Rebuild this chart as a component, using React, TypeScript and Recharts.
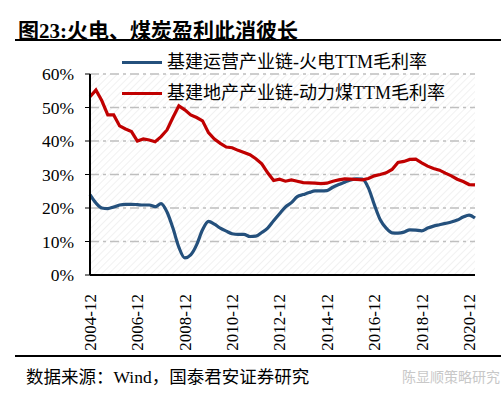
import React from 'react';
import { LineChart, Line, XAxis, YAxis, CartesianGrid } from 'recharts';

const quarters = [
  '2004-12', '2005-03', '2005-06', '2005-09', '2005-12', '2006-03', '2006-06', '2006-09',
  '2006-12', '2007-03', '2007-06', '2007-09', '2007-12', '2008-03', '2008-06', '2008-09',
  '2008-12', '2009-03', '2009-06', '2009-09', '2009-12', '2010-03', '2010-06', '2010-09',
  '2010-12', '2011-03', '2011-06', '2011-09', '2011-12', '2012-03', '2012-06', '2012-09',
  '2012-12', '2013-03', '2013-06', '2013-09', '2013-12', '2014-03', '2014-06', '2014-09',
  '2014-12', '2015-03', '2015-06', '2015-09', '2015-12', '2016-03', '2016-06', '2016-09',
  '2016-12', '2017-03', '2017-06', '2017-09', '2017-12', '2018-03', '2018-06', '2018-09',
  '2018-12', '2019-03', '2019-06', '2019-09', '2019-12', '2020-03', '2020-06', '2020-09',
  '2020-12', '2021-03'
];

// 基建运营产业链-火电TTM毛利率 (%)
const powerMargin = [
  24.0, 21.5, 20.0, 19.8, 20.3, 20.9, 21.1, 21.1,
  21.0, 20.9, 20.9, 20.4, 21.3, 18.8, 14.0, 8.3,
  5.1, 6.0, 9.0, 13.5, 16.0, 15.2, 14.0, 13.1,
  12.3, 12.1, 12.1, 11.5, 11.6, 12.7, 14.0, 16.2,
  18.3, 20.3, 21.6, 23.4, 24.0, 24.6, 25.1, 25.1,
  25.2, 26.2, 27.0, 27.7, 28.4, 28.7, 28.6, 26.0,
  21.0, 16.5, 14.0, 12.6, 12.5, 12.8, 13.5, 13.4,
  13.2, 14.0, 14.6, 15.0, 15.4, 15.8, 16.4, 17.3,
  17.9, 17.0
];

// 基建地产产业链-动力煤TTM毛利率 (%)
const coalMargin = [
  53.2, 55.2, 52.0, 47.8, 47.8, 44.5, 43.6, 42.8,
  40.0, 40.6, 40.3, 39.8, 41.3, 43.3, 47.0, 50.5,
  49.3, 47.8, 47.0, 46.0, 42.5, 40.6, 39.3, 38.2,
  38.0, 37.2, 36.6, 35.9, 34.7, 33.2, 30.5, 28.2,
  28.6, 28.0, 28.4, 28.0, 27.6, 27.5, 27.4, 27.3,
  27.4, 28.0, 28.4, 28.7, 28.6, 28.5, 28.4, 28.8,
  29.6, 30.0, 30.5, 31.5, 33.6, 33.9, 34.5, 34.6,
  33.5, 32.5, 31.8, 31.3, 30.4, 29.6, 28.6, 27.9,
  27.0, 26.9
];

const yTicks = [0, 10, 20, 30, 40, 50, 60];

const seriesNames = ['基建运营产业链-火电TTM毛利率', '基建地产产业链-动力煤TTM毛利率'];
const BLUE = '#24507c';
const RED = '#c00000';

const data = quarters.map((q, i) => ({
  date: q,
  power: powerMargin[i],
  coal: coalMargin[i]
}));

const FONT = '"Liberation Serif", "Noto Sans CJK SC", serif';

const DateTick = (props: any) => {
  const { x, y, payload } = props;
  return <text x={x} y={y} transform={`rotate(-90, ${x}, ${y})`} textAnchor="end" dy="0.35em" dx={-11}
      fontSize={17} fontFamily={FONT} fill="#000">
      {payload.value}
    </text>;
};

const PctTick = (props: any) => {
  const { x, y, payload } = props;
  return <text x={x} y={y} textAnchor="end" dy="0.36em" fontSize={17.5} fontFamily={FONT} fill="#000">
      {`${payload.value}%`}
    </text>;
};

const App: React.FC = () => {
  return <div style={{
    position: 'absolute',
    left: 0,
    top: 0,
    width: 501,
    height: 396,
    background: '#fff',
    fontFamily: FONT
  }}>
      <div style={{
      position: 'absolute',
      left: 18,
      top: 14,
      fontSize: 21,
      fontWeight: 'bold',
      fontFamily: FONT,
      whiteSpace: 'nowrap'
    }}>
        图23:火电、煤炭盈利此消彼长
      </div>
      <div style={{
      position: 'absolute',
      left: 15,
      top: 39,
      width: 486,
      height: 2,
      background: '#000'
    }} />

      <div style={{ position: 'absolute', left: 0, top: 0 }}>
        <LineChart width={501} height={396} data={data} margin={{ top: 74, right: 26, left: 0, bottom: 0 }}
          style={{ fontFamily: FONT }}>
          <defs>
            <pattern id="hatch" width="5" height="5" patternUnits="userSpaceOnUse" patternTransform="rotate(45)">
              <line x1="0" y1="0" x2="0" y2="5" stroke="#e4e4e4" strokeWidth="1" />
            </pattern>
          </defs>
          <CartesianGrid vertical={false} horizontal stroke="#bfbfbf" strokeDasharray="9 4 3 4" strokeWidth={1.3} fill="url(#hatch)" />
          <XAxis dataKey="date" interval={7} tick={<DateTick />} tickLine={false} axisLine={{ stroke: '#000', strokeWidth: 2 }} height={121} />
          <YAxis domain={[0, 60]} ticks={yTicks} width={90} tickSize={5} tickMargin={11}
            axisLine={{ stroke: '#000', strokeWidth: 2 }} tickLine={{ stroke: '#000' }}
            tick={<PctTick />} />
          <Line type="monotone" dataKey="power" name={seriesNames[0]} stroke={BLUE} strokeWidth={3.2} dot={false} isAnimationActive={false} />
          <Line type="linear" dataKey="coal" name={seriesNames[1]} stroke={RED} strokeWidth={3.2} dot={false} isAnimationActive={false} />
        </LineChart>
      </div>

      <div style={{
      position: 'absolute',
      left: 122,
      top: 47,
      fontSize: 18,
      lineHeight: '31px',
      color: '#000',
      whiteSpace: 'nowrap'
    }}>
        {seriesNames.map((name, i) => <div key={name} style={{
        display: 'flex',
        alignItems: 'center'
      }}>
            <span style={{
          display: 'inline-block',
          width: 40,
          height: 3,
          background: i === 0 ? BLUE : RED,
          marginRight: 5
        }} />
            <span>{name}</span>
          </div>)}
      </div>

      <div style={{
      position: 'absolute',
      left: 15,
      top: 355,
      width: 486,
      height: 1.5,
      background: '#000'
    }} />
      <div style={{
      position: 'absolute',
      left: 26,
      top: 363,
      fontSize: 17.5,
      whiteSpace: 'nowrap'
    }}>
        数据来源：Wind，国泰君安证券研究
      </div>
      <div style={{
      position: 'absolute',
      left: 402,
      top: 366,
      fontSize: 14,
      color: '#c8c8c8',
      fontFamily: '"Noto Sans CJK SC", sans-serif',
      whiteSpace: 'nowrap'
    }}>
        陈显顺策略研究
      </div>
    </div>;
};

export default App;
